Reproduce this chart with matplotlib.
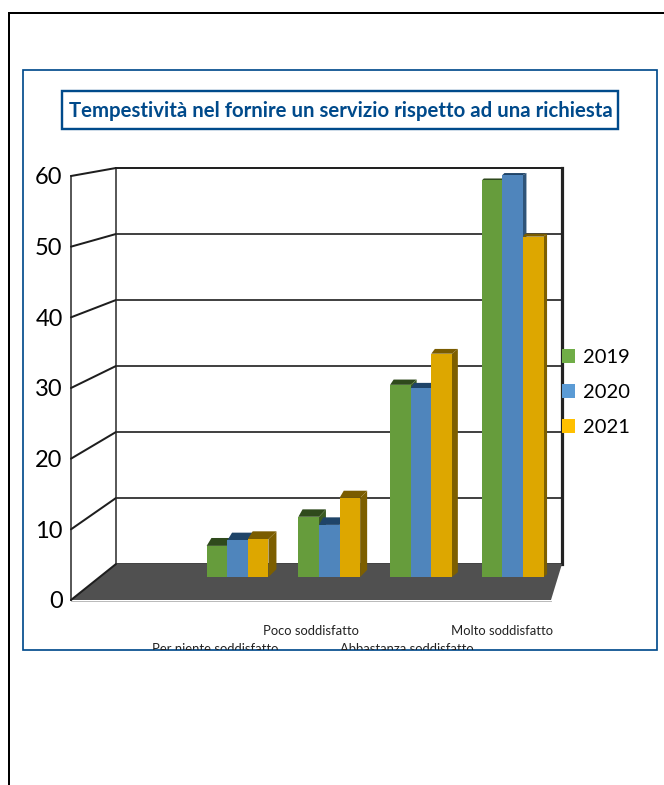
import matplotlib
matplotlib.use("Agg")
import matplotlib.pyplot as plt
from matplotlib.patches import Rectangle, Polygon, ConnectionPatch

TITLE = "Tempestività nel fornire un servizio rispetto ad una richiesta"
categories = ["Per niente soddisfatto", "Poco soddisfatto", "Abbastanza soddisfatto", "Molto soddisfatto"]
series_names = ["2019", "2020", "2021"]
values_2019 = [4.6, 8.9, 28.4, 58.6]
values_2020 = [5.4, 7.7, 27.9, 59.4]
values_2021 = [5.6, 11.7, 33.0, 50.3]
y_ticks = [0, 10, 20, 30, 40, 50, 60]

W, H = 664, 785
plt.rcParams["font.family"] = ["Lato", "DejaVu Sans"]
fig = plt.figure(figsize=(W / 100, H / 100), dpi=100)
PT = 72 / 100


def add_axes(x0, x1, ytop, ybot, z):
    ax = fig.add_axes([x0 / W, 1 - ybot / H, (x1 - x0) / W, (ybot - ytop) / H])
    ax.set_zorder(z)
    ax.patch.set_alpha(0)
    return ax


# page canvas in pixel units (frames and title box)
canvas = add_axes(0, W, 0, H, 0)
canvas.set_xlim(0, W)
canvas.set_ylim(H, 0)
canvas.axis("off")
NAVY = "#004A8B"
canvas.plot([9, 9, W], [H, 13, 13], color="black", lw=2 * PT, solid_joinstyle="miter")
canvas.add_patch(Rectangle((23, 70), 634, 580, fc="white", ec=NAVY, lw=1.7 * PT, zorder=1))
canvas.add_patch(Rectangle((62, 90.5), 556, 38, fc="white", ec=NAVY, lw=2.4 * PT, zorder=2))
canvas.text(341, 111, TITLE, color=NAVY, fontsize=14.7, fontweight="bold",
            ha="center", va="center", zorder=3)

# back wall
back = add_axes(116, 562, 168, 564, 1)
back.set_ylim(0, 60)
back.set_xlim(0, 1)
back.set_xticks([])
back.set_yticks(y_ticks)
back.tick_params(left=False, labelleft=False)
back.grid(axis="y", color="#444444", lw=2 * PT)
for s in back.spines.values():
    s.set_visible(False)
for name, col, lw in [("left", "#5A5A5A", 2), ("right", "#222222", 3.2), ("top", "#222222", 2)]:
    back.spines[name].set_visible(True)
    back.spines[name].set_color(col)
    back.spines[name].set_linewidth(lw * PT)

# front plane: the value axis
front = add_axes(71, 551, 176, 600, 2)
front.set_ylim(0, 60)
front.set_xlim(0, 1)
front.set_xticks([])
front.set_yticks(y_ticks)
front.tick_params(axis="y", length=0, pad=6, labelsize=17, labelcolor="black")
for s in front.spines.values():
    s.set_visible(False)
front.spines["left"].set_visible(True)
front.spines["left"].set_color("#5A5A5A")
front.spines["left"].set_linewidth(2 * PT)

# floor, spanned between the zero levels of the two planes
floor_pts = [
    front.transData.transform((0, 0)),
    front.transData.transform((1, 0)),
    back.transData.transform((1, 0)),
    back.transData.transform((0, 0)),
]
floor_px = [(x, H - y) for x, y in floor_pts]
floor_ax = add_axes(0, W, 0, H, 1.5)
floor_ax.set_xlim(0, W)
floor_ax.set_ylim(H, 0)
floor_ax.axis("off")
floor_ax.add_patch(Polygon(floor_px, closed=True, fc="#505050", ec="none"))
floor_ax.plot([floor_px[0][0], floor_px[1][0]], [floor_px[0][1] + 0.8] * 2, color="#BBBBBB", lw=1 * PT)

# left wall lines
for v in y_ticks:
    con = ConnectionPatch(xyA=(0, v), coordsA=front.transData, xyB=(0, v), coordsB=back.transData,
                          color="#1E1E1E", lw=2 * PT, zorder=5)
    fig.add_artist(con)

# bars, standing on an intermediate depth plane
bars = add_axes(191.7, 558.5, 171, 577, 3)
bars.set_ylim(0, 60)
bars.set_xlim(0, 4)
bars.set_yticks([])
bars.set_xticks([])
for s in bars.spines.values():
    s.set_visible(False)

front_cols = ["#669C3C", "#4F85BC", "#DDA700"]
top_cols = ["#2F4A1C", "#1F4468", "#7A5C00"]
side_cols = ["#3C5C24", "#2F5478", "#7D5F00"]
group_dx = [8, 7, 6, 3.5]
bar_w = 20.6 / (558.5 - 191.7) * 4
series = [values_2019, values_2020, values_2021]
inv = bars.transData.inverted()
sx = inv.transform((1, 0))[0] - inv.transform((0, 0))[0]
sy = inv.transform((0, 1))[1] - inv.transform((0, 0))[1]
for i, vals in enumerate(series):
    for g, v in enumerate(vals):
        x0 = g + 0.5 + (i - 1.5) * bar_w
        x1 = x0 + bar_w
        dx = group_dx[g] * sx
        dy = max(2, 8.4 - 0.11 * v) * sy
        bars.add_patch(Polygon([(x0, v), (x1, v), (x1 + dx, v + dy), (x0 + dx * .6, v + dy)],
                               fc=top_cols[i], ec="none", zorder=10 + i, clip_on=False))
        bars.add_patch(Polygon([(x1, 0), (x1 + dx, dy), (x1 + dx, v + dy), (x1, v)],
                               fc=side_cols[i], ec="none", zorder=10 + i, clip_on=False))
    bars.bar([g + 0.5 + (i - 1.5) * bar_w for g in range(4)], vals, width=bar_w,
             align="edge", color=front_cols[i], zorder=10 + i, clip_on=False)

# category labels: staggered, on their own slightly shifted scale, cut by the chart frame
lab_ax = add_axes(167.3, 550, 500, 600, 4)
lab_ax.set_xlim(0, 4)
lab_ax.set_ylim(0, 1)
lab_ax.set_yticks([])
for s in lab_ax.spines.values():
    s.set_visible(False)
lab_ax.set_xticks([g + 0.5 for g in range(4)], categories)
lab_ax.tick_params(axis="x", length=0, labelsize=9.4, labelcolor="#222222")
for k, (tick, lab) in enumerate(zip(lab_ax.xaxis.get_major_ticks(), lab_ax.get_xticklabels())):
    tick.set_pad((43 if k % 2 == 0 else 25) * PT)
    lab.set_clip_path(Rectangle((23, H - 650), 634, 580, transform=None))
    lab.set_clip_on(True)

# legend
legend_cols = ["#70AD47", "#5B9BD5", "#FFC000"]
leg_handles = [Rectangle((0, 0), 1, 1, fc=c, ec="none") for c in legend_cols]
leg = fig.legend(leg_handles, series_names, loc="center left",
                 bbox_to_anchor=(562 / W, 1 - 392.5 / H), frameon=False, fontsize=14.5,
                 handlelength=0.66, handleheight=0.66, handletextpad=0.36,
                 labelspacing=0.9, borderpad=0, borderaxespad=0)
leg.set_zorder(6)

fig.savefig("out.png", dpi=100)
